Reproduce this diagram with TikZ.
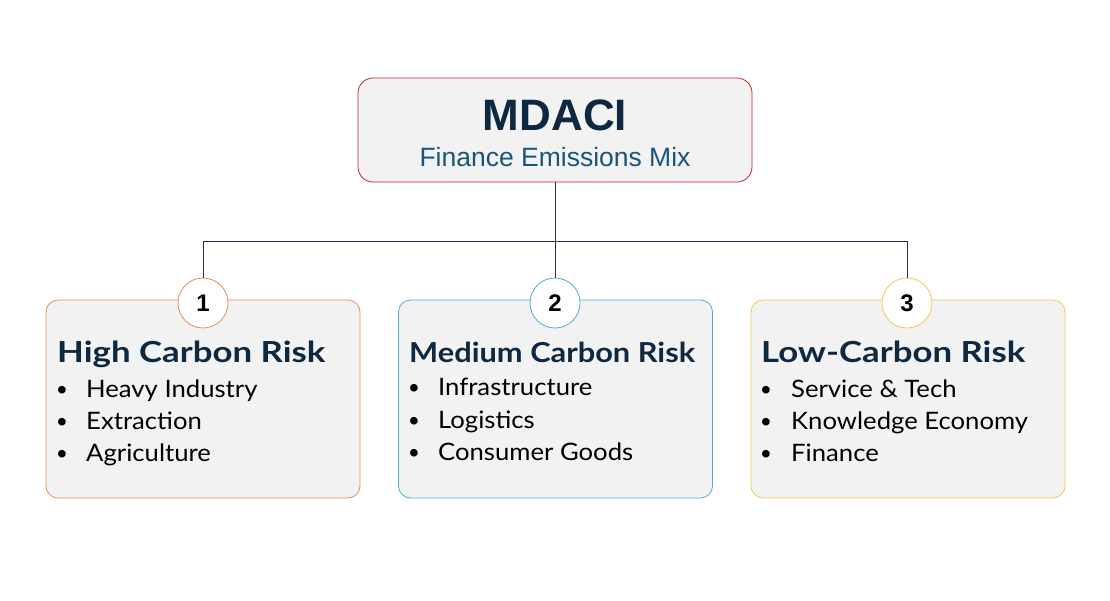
\documentclass[tikz,border=0pt]{standalone}
\usepackage{fontspec}
\setmainfont{Lato}
\newfontfamily\arialf{Liberation Sans}
\newfontfamily\headf[FakeStretch=1.2]{Lato}
\newfontfamily\headnf[FakeStretch=1.12]{Lato}
\newfontfamily\bodyf[FakeStretch=1.07]{Lato}
\usetikzlibrary{positioning}
\definecolor{navy}{HTML}{0E2841}
\definecolor{teal}{HTML}{1B5577}
\definecolor{boxfill}{HTML}{F2F2F2}
\definecolor{redb}{HTML}{C0282D}
\definecolor{orangeb}{HTML}{E98A5E}
\definecolor{blueb}{HTML}{4AAFD6}
\definecolor{goldb}{HTML}{F0CB4A}
\definecolor{linec}{HTML}{1F2F4A}
\tikzset{
  catbox/.style={draw, fill=boxfill, rounded corners=12pt, line width=0.8pt, minimum width=314pt, minimum height=198pt, inner sep=0pt},
  numcirc/.style={circle, draw, fill=white, line width=0.8pt, minimum size=50pt, inner sep=0pt, font=\fontsize{24}{28}\selectfont\bfseries\arialf},
  heading/.style={anchor=base west, inner sep=0pt, text=navy, font=\fontsize{29}{34}\selectfont\bfseries\headf},
  headingn/.style={anchor=base west, inner sep=0pt, text=navy, font=\fontsize{27.5}{32}\selectfont\bfseries\headnf},
  bullet/.style={anchor=base west, inner sep=0pt, text=black, font=\fontsize{24}{28}\selectfont\bodyf},
  dot/.style={anchor=base west, inner sep=0pt, text=black, font=\fontsize{28}{28}\selectfont\arialf},
  conn/.style={draw=linec, line width=0.8pt}
}
\begin{document}
\begin{tikzpicture}[x=1pt,y=-1pt]
\useasboundingbox (0,0) rectangle (1110,600);
\fill[white] (0,0) rectangle (1110,600);
% top box
\node[draw=redb, fill=boxfill, rounded corners=15pt, line width=0.8pt, minimum width=394pt, minimum height=104pt, inner sep=0pt] (top) at (555,130) {};
\node[inner sep=0pt, text=navy, font=\fontsize{44}{48}\selectfont\bfseries\arialf] (title) at (555,115) {MDACI};
\node[inner sep=0pt, text=teal, font=\fontsize{26.5}{30}\selectfont\arialf] (sub) at (555,157) {Finance Emissions Mix};
% category boxes
\node[catbox, draw=orangeb] (b1) at (203,399) {};
\node[catbox, draw=blueb] (b2) at (555.5,399) {};
\node[catbox, draw=goldb] (b3) at (908,399) {};
% connectors
\coordinate (hub) at (555,241);
\node[numcirc, draw=orangeb] (c1) at (203,303) {1};
\node[numcirc, draw=blueb] (c2) at (555,303) {2};
\node[numcirc, draw=goldb] (c3) at (907,303) {3};
\draw[conn] (top.south) -- (hub);
\draw[conn] (hub) -| (c1.north);
\draw[conn] (hub) -- (c2.north);
\draw[conn] (hub) -| (c3.north);
% box 1 text
\node[heading] (h1) at (57,362) {High Carbon Risk};
\node[dot] (d11) at (57,399) {•};
\node[bullet] (t11) at (86,397) {Heavy Industry};
\node[dot] (d12) at (57,431) {•};
\node[bullet] (t12) at (86,429) {Extraction};
\node[dot] (d13) at (57,463) {•};
\node[bullet] (t13) at (86,461) {Agriculture};
% box 2 text
\node[headingn] (h2) at (409,362) {Medium Carbon Risk};
\node[dot] (d21) at (409,397) {•};
\node[bullet] (t21) at (438,395) {Infrastructure};
\node[dot] (d22) at (409,430) {•};
\node[bullet] (t22) at (438,428) {Logistics};
\node[dot] (d23) at (409,462) {•};
\node[bullet] (t23) at (438,460) {Consumer Goods};
% box 3 text
\node[heading] (h3) at (761,362) {Low-Carbon Risk};
\node[dot] (d31) at (761,399) {•};
\node[bullet] (t31) at (791,397) {Service \& Tech};
\node[dot] (d32) at (761,431) {•};
\node[bullet] (t32) at (791,429) {Knowledge Economy};
\node[dot] (d33) at (761,463) {•};
\node[bullet] (t33) at (791,461) {Finance};
\end{tikzpicture}
\end{document}
